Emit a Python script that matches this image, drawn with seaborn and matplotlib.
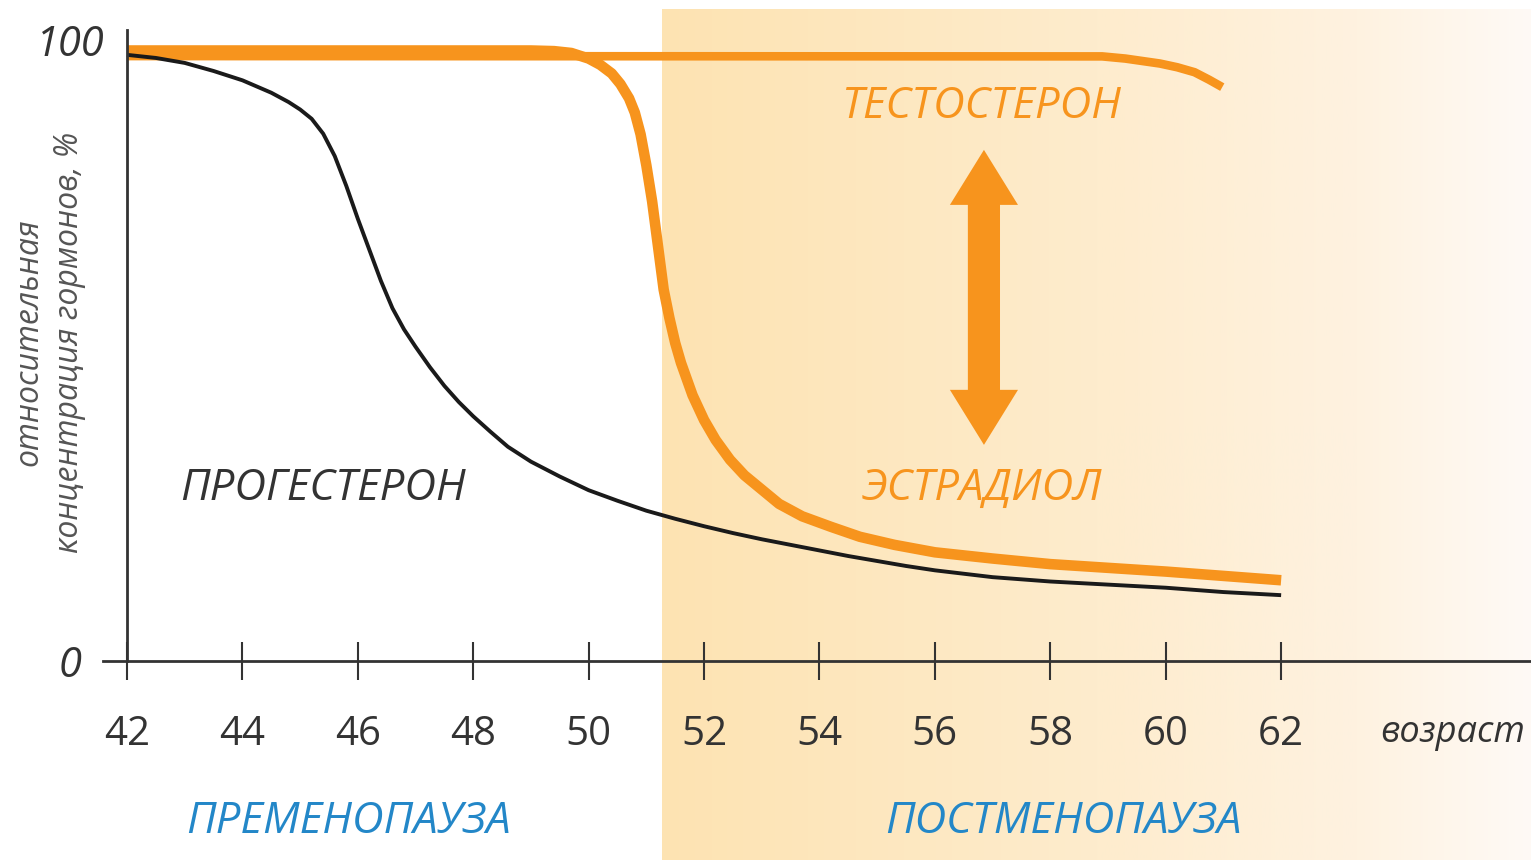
import numpy as np
import pandas as pd
import matplotlib.pyplot as plt
import seaborn as sns

# возраст (годы) и относительная концентрация (%)
prog_age = [42.0, 42.5, 43.0, 43.5, 44.0, 44.5, 44.8, 45.0, 45.2, 45.4, 45.6, 45.8,
            46.0, 46.2, 46.4, 46.6, 46.8, 47.0, 47.25, 47.5, 47.75, 48.0, 48.3, 48.6,
            49.0, 49.5, 50.0, 50.5, 51.0, 51.5, 52.0, 52.5, 53.0, 53.5, 54.0, 54.5,
            55.0, 55.5, 56.0, 57.0, 58.0, 59.0, 60.0, 61.0, 62.0]
prog_val = [97.6, 97.1, 96.3, 95.0, 93.5, 91.5, 90.0, 88.8, 87.3, 84.9, 81.3, 76.5,
            71.2, 66.2, 61.2, 56.8, 53.4, 50.6, 47.3, 44.3, 41.7, 39.4, 36.9, 34.5,
            32.1, 29.7, 27.5, 25.8, 24.2, 22.9, 21.7, 20.6, 19.6, 18.7, 17.8, 16.9,
            16.1, 15.3, 14.6, 13.5, 12.8, 12.3, 11.8, 11.1, 10.6]

estr_age = [42.0, 49.0, 49.4, 49.7, 50.0, 50.2, 50.4, 50.55, 50.7, 50.8, 50.9, 51.0,
            51.1, 51.2, 51.3, 51.4, 51.5, 51.6, 51.8, 52.0, 52.2, 52.45, 52.7, 53.0,
            53.3, 53.7, 54.2, 54.7, 55.3, 56.0, 57.0, 58.0, 59.0, 60.0, 61.0, 62.0]
estr_val = [98.3, 98.3, 98.2, 97.9, 97.0, 96.0, 94.6, 92.9, 90.6, 88.3, 84.8, 79.8,
            74.0, 66.9, 59.8, 55.2, 51.2, 48.0, 42.8, 38.8, 35.6, 32.4, 29.9, 27.6,
            25.3, 23.3, 21.6, 20.0, 18.7, 17.5, 16.5, 15.6, 15.0, 14.4, 13.7, 13.0]

test_age = [42.0, 58.9, 59.3, 59.6, 59.9, 60.2, 60.5, 60.75, 60.98]
test_val = [97.4, 97.35, 97.0, 96.6, 96.2, 95.6, 94.8, 93.6, 92.4]

x_ticks = [42, 44, 46, 48, 50, 52, 54, 56, 58, 60, 62]
y_ticks = [0, 100]
menopause_age = 51.27

ORANGE = '#F7941D'
DARK = '#333333'
BLUE = '#2387C8'

sns.set_theme(style='white')
plt.rcParams['font.family'] = ['Open Sans', 'DejaVu Sans']

W, H = 1531, 860
fig = plt.figure(figsize=(W / 100, H / 100), dpi=100)

xlim = (41.584, 66.33)
ylim = (0, 101.6)
ax_pos = [103 / W, 1 - 661 / H, (W - 103) / W, (661 - 30) / H]

# фон постменопаузы: горизонтальный градиент
x0 = ax_pos[0] + (menopause_age - xlim[0]) / (xlim[1] - xlim[0]) * ax_pos[2]
bg = fig.add_axes([x0, 0, 1 - x0, 1 - 9 / H])
t = np.linspace(0, 1, 400)
stops = [0, 0.5, 0.8, 1.0]
cols = np.array([[253, 227, 178], [254, 236, 205], [254, 242, 224], [255, 250, 246]]) / 255
grad = np.stack([np.interp(t, stops, cols[:, i]) for i in range(3)], axis=-1)[None, :, :]
bg.imshow(grad, aspect='auto', extent=[0, 1, 0, 1])
bg.axis('off')

ax = fig.add_axes(ax_pos)
ax.patch.set_alpha(0)

df_p = pd.DataFrame({'age': prog_age, 'val': prog_val})
df_e = pd.DataFrame({'age': estr_age, 'val': estr_val})
df_t = pd.DataFrame({'age': test_age, 'val': test_val})
sns.lineplot(data=df_t, x='age', y='val', ax=ax, color=ORANGE, lw=6.2,
             solid_capstyle='butt', sort=False)
sns.lineplot(data=df_e, x='age', y='val', ax=ax, color=ORANGE, lw=7.6,
             solid_capstyle='butt', sort=False)
sns.lineplot(data=df_p, x='age', y='val', ax=ax, color='#1a1a1a', lw=2.8,
             solid_capstyle='butt', sort=False)

ax.set_xlim(*xlim)
ax.set_ylim(*ylim)
ax.set_xlabel('')
ax.set_ylabel('')

for s in ['top', 'right']:
    ax.spines[s].set_visible(False)
ax.spines['left'].set_position(('data', 42))
for s in ['left', 'bottom']:
    ax.spines[s].set_color(DARK)
    ax.spines[s].set_linewidth(2)

ax.set_xticks(x_ticks)
ax.set_xticklabels([str(v) for v in x_ticks])
ax.tick_params(axis='x', direction='inout', length=27, width=1.5, color=DARK,
               labelsize=29, labelcolor=DARK, pad=25, bottom=True)
ax.set_yticks(y_ticks)
ax.set_yticklabels([str(v) for v in y_ticks])
ax.tick_params(axis='y', length=0, labelsize=30, labelcolor=DARK, pad=41, left=True)
for lab in ax.get_yticklabels():
    lab.set_ha('center')
    lab.set_fontstyle('italic')

# двойная стрелка между тестостероном и эстрадиолом
arr_x, top, bottom = 56.85, 82.3, 34.8
hl = 8.86
ax.arrow(arr_x, bottom + hl, 0, top - bottom - hl, width=0.555, head_width=1.18,
         head_length=hl, length_includes_head=True, color=ORANGE, lw=0)
ax.arrow(arr_x, top - hl, 0, bottom - top + hl, width=0.555, head_width=1.18,
         head_length=hl, length_includes_head=True, color=ORANGE, lw=0)

lab_fs = 31.5
ax.text(56.80, 89.2, 'ТЕСТОСТЕРОН', color=ORANGE, fontsize=lab_fs, style='italic',
        ha='center', va='center')
ax.text(56.82, 27.7, 'ЭСТРАДИОЛ', color=ORANGE, fontsize=lab_fs, style='italic',
        ha='center', va='center')
ax.text(45.40, 27.7, 'ПРОГЕСТЕРОН', color=DARK, fontsize=lab_fs, style='italic',
        ha='center', va='center')

fig.text(348 / W, 1 - 822 / H, 'ПРЕМЕНОПАУЗА', color=BLUE, fontsize=lab_fs, style='italic',
         ha='center', va='center')
fig.text(1063 / W, 1 - 822 / H, 'ПОСТМЕНОПАУЗА', color=BLUE, fontsize=lab_fs, style='italic',
         ha='center', va='center')
fig.text(1525 / W, 1 - 733 / H, 'возраст', color=DARK, fontsize=26, style='italic',
         ha='right', va='center')
fig.text(49 / W, 1 - 342 / H, 'относительная\nконцентрация гормонов, %', color='#555555',
         fontsize=23, style='italic', rotation=90, ha='center', va='center',
         multialignment='center', linespacing=1.3)

fig.savefig('out.png', dpi=100)
